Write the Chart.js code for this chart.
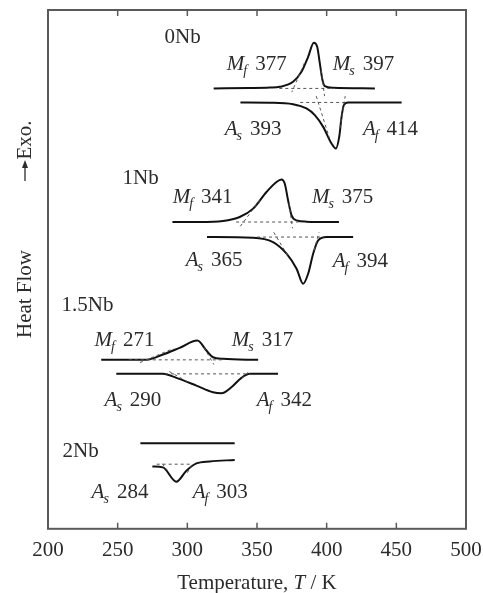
<!DOCTYPE html>
<html>
<head>
<meta charset="utf-8">
<script src="https://cdn.jsdelivr.net/npm/chart.js@4"></script>
<style>
  html, body { margin: 0; padding: 0; background: #fff; }
  canvas { display: block; }
</style>
</head>
<body>
<canvas id="dsc" width="483" height="593"></canvas>
<script>
// x axis ticks (temperature, K)
const tempTicks = [200, 250, 300, 350, 400, 450, 500];

// DSC traces, heat flow in arbitrary units (curves are stacked, exo up)
// 0Nb
const nb0CoolT  = [318.9, 344.8, 359.2, 366.4, 375.9, 381.9, 386.7, 390.8, 393.2, 395.1, 397.0, 398.7, 404.7, 434.6];
const nb0CoolHF = [43.97, 44.0, 44.05, 44.13, 44.63, 45.63, 47.13, 48.53, 48.13, 46.47, 44.8, 44.2, 44.03, 43.97];
const nb0HeatT  = [338.1, 359.2, 375.9, 385.5, 391.5, 397.5, 403.5, 406.6, 409.0, 410.7, 412.3, 415.4, 453.8];
const nb0HeatHF = [42.57, 42.55, 42.4, 41.97, 41.3, 40.13, 38.47, 37.97, 39.13, 41.13, 42.3, 42.57, 42.57];
// 1Nb
const nb1CoolT  = [289.3, 308.9, 325.6, 337.6, 347.2, 356.8, 364.0, 367.6, 369.9, 372.3, 374.8, 378.4, 385.5, 408.8];
const nb1CoolHF = [30.63, 30.63, 30.73, 31.13, 31.97, 33.63, 34.63, 34.87, 34.47, 32.8, 31.3, 30.8, 30.67, 30.63];
const nb1HeatT  = [314.1, 347.2, 361.5, 371.2, 378.4, 383.1, 386.7, 390.3, 393.9, 399.9, 419.0];
const nb1HeatHF = [29.13, 29.07, 28.63, 27.47, 25.97, 24.47, 25.47, 27.47, 28.8, 29.13, 29.13];
// 1.5Nb
const nb15CoolT  = [238.2, 258.6, 270.6, 282.5, 294.5, 307.2, 313.7, 318.4, 325.6, 350.8];
const nb15CoolHF = [16.87, 16.87, 16.87, 17.4, 18.07, 18.8, 17.8, 17.13, 16.97, 16.87];
const nb15HeatT  = [249.0, 282.5, 292.1, 306.5, 318.4, 324.5, 331.6, 338.8, 344.8, 365.1];
const nb15HeatHF = [15.47, 15.47, 15.07, 14.3, 13.63, 13.53, 14.13, 15.07, 15.47, 15.47];
// 2Nb
const nb2CoolT  = [266.3, 300.0, 334.0];
const nb2CoolHF = [8.53, 8.53, 8.53];
const nb2HeatT  = [274.9, 282.5, 292.1, 299.3, 306.5, 316.1, 334.0];
const nb2HeatHF = [6.23, 6.13, 4.7, 5.8, 6.53, 6.73, 6.87];

// dashed construction lines (baseline + tangents), pairs of points
const tangentT = [
  [366, 406], [384, 375], [396, 398.5],
  [381, 414], [392.5, 402], [409.5, 413.3],
  [335, 380], [338, 352], [373, 375.5],
  [350, 398], [362, 372], [391, 394.5],
  [258, 325], [266, 290], [312, 319],
  [284, 345], [287, 300], [339, 345],
  [278, 303], [282, 287], [300, 304]
];
const tangentHF = [
  [43.97, 43.97], [46.5, 43.6], [45.8, 43.2],
  [42.57, 42.57], [43.2, 39.0], [40.0, 43.2],
  [30.63, 30.63], [30.2, 32.8], [32.5, 30.0],
  [29.13, 29.13], [29.6, 27.3], [27.8, 29.6],
  [16.87, 16.87], [16.6, 18.0], [18.1, 16.4],
  [15.47, 15.47], [15.7, 14.7], [15.0, 15.8],
  [6.45, 6.45], [6.5, 5.6], [5.6, 6.6]
];

// sample names
const sampleNames = ['0Nb', '1Nb', '1.5Nb', '2Nb'];
const sampleT  = [283.7, 253.5, 209.7, 210.4];
const sampleHF = [49.05, 35.0, 22.3, 7.7];

// transformation temperatures
const annoMain = ['M', 'M', 'A', 'A', 'M', 'M', 'A', 'A', 'M', 'M', 'A', 'A', 'A', 'A'];
const annoSub  = ['f', 's', 's', 'f', 'f', 's', 's', 'f', 'f', 's', 's', 'f', 's', 'f'];
const annoVal  = [377, 397, 393, 414, 341, 375, 365, 394, 271, 317, 290, 342, 284, 303];
const annoT    = [328.3, 404.4, 326.8, 426.0, 289.5, 389.4, 298.8, 404.4, 233.4, 331.9, 240.6, 349.8, 231.3, 303.8];
const annoHF   = [46.4, 46.4, 39.9, 39.9, 33.1, 33.1, 26.8, 26.7, 18.8, 18.8, 12.8, 12.8, 3.6, 3.6];

const serif = '"Liberation Serif", "Times New Roman", serif';
const inkColor = '#2b2b2b';
const frameColor = '#5a5a5a';

function pts(xs, ys) {
  return xs.map((x, i) => ({ x: x, y: ys[i] }));
}

function curve(xs, ys) {
  return {
    data: pts(xs, ys),
    showLine: true,
    borderColor: '#111',
    borderWidth: 2,
    pointRadius: 0,
    cubicInterpolationMode: 'monotone',
    fill: false
  };
}

const datasets = [];
tangentT.forEach((t, i) => {
  datasets.push({
    data: pts(t, tangentHF[i]),
    showLine: true,
    borderColor: '#555',
    borderWidth: 1,
    borderDash: [3, 3],
    pointRadius: 0,
    tension: 0
  });
});
datasets.push(curve(nb0CoolT, nb0CoolHF));
datasets.push(curve(nb0HeatT, nb0HeatHF));
datasets.push(curve(nb1CoolT, nb1CoolHF));
datasets.push(curve(nb1HeatT, nb1HeatHF));
datasets.push(curve(nb15CoolT, nb15CoolHF));
datasets.push(curve(nb15HeatT, nb15HeatHF));
datasets.push(curve(nb2CoolT, nb2CoolHF));
datasets.push(curve(nb2HeatT, nb2HeatHF));

// frame, inward ticks, labels and axis titles
const decorations = {
  id: 'decorations',
  afterDraw(chart) {
    const ctx = chart.ctx;
    const a = chart.chartArea;
    const xs = chart.scales.x;
    const ys = chart.scales.y;
    ctx.save();

    // box
    ctx.strokeStyle = frameColor;
    ctx.lineWidth = 2;
    ctx.strokeRect(a.left, a.top, a.right - a.left, a.bottom - a.top);

    // inward tick marks top and bottom
    ctx.lineWidth = 1.5;
    tempTicks.forEach(t => {
      if (t === tempTicks[0] || t === tempTicks[tempTicks.length - 1]) return;
      const px = xs.getPixelForValue(t);
      ctx.beginPath();
      ctx.moveTo(px, a.bottom);
      ctx.lineTo(px, a.bottom - 6);
      ctx.moveTo(px, a.top);
      ctx.lineTo(px, a.top + 6);
      ctx.stroke();
    });

    ctx.fillStyle = inkColor;
    ctx.textAlign = 'left';
    ctx.textBaseline = 'middle';

    // sample names
    ctx.font = '21px ' + serif;
    sampleNames.forEach((name, i) => {
      ctx.fillText(name, xs.getPixelForValue(sampleT[i]), ys.getPixelForValue(sampleHF[i]));
    });

    // Mf, Ms, As, Af labels
    annoMain.forEach((m, i) => {
      const x = xs.getPixelForValue(annoT[i]);
      const y = ys.getPixelForValue(annoHF[i]);
      ctx.font = 'italic 21px ' + serif;
      ctx.fillText(m, x, y);
      let w = ctx.measureText(m).width;
      ctx.font = 'italic 14px ' + serif;
      ctx.fillText(annoSub[i], x + w - 1, y + 7);
      w += ctx.measureText(annoSub[i]).width;
      ctx.font = '21px ' + serif;
      ctx.fillText(String(annoVal[i]), x + w + 7, y);
    });

    // x title with italic T
    const parts = [['Temperature, ', '21px '], ['T', 'italic 21px '], [' / K', '21px ']];
    let total = 0;
    parts.forEach(p => { ctx.font = p[1] + serif; total += ctx.measureText(p[0]).width; });
    let tx = (a.left + a.right) / 2 - total / 2;
    parts.forEach(p => {
      ctx.font = p[1] + serif;
      ctx.fillText(p[0], tx, 583);
      tx += ctx.measureText(p[0]).width;
    });

    // y title: Heat Flow  ->Exo.
    ctx.font = '21px ' + serif;
    ctx.textAlign = 'center';
    ctx.save();
    ctx.translate(25, 294);
    ctx.rotate(-Math.PI / 2);
    ctx.fillText('Heat Flow', 0, 0);
    ctx.restore();
    ctx.save();
    ctx.translate(25, 140);
    ctx.rotate(-Math.PI / 2);
    ctx.fillText('Exo.', 0, 0);
    ctx.restore();
    // arrow pointing up (exo direction)
    ctx.strokeStyle = inkColor;
    ctx.lineWidth = 1.3;
    ctx.beginPath();
    ctx.moveTo(25, 181);
    ctx.lineTo(25, 164);
    ctx.stroke();
    ctx.beginPath();
    ctx.moveTo(25, 160);
    ctx.lineTo(22, 168);
    ctx.lineTo(28, 168);
    ctx.closePath();
    ctx.fill();

    ctx.restore();
  }
};

new Chart(document.getElementById('dsc'), {
  type: 'scatter',
  data: { datasets: datasets },
  options: {
    responsive: false,
    animation: false,
    devicePixelRatio: 1,
    layout: { padding: { left: 48, right: 17, top: 10, bottom: 29 } },
    plugins: { legend: { display: false }, tooltip: { enabled: false } },
    scales: {
      x: {
        type: 'linear',
        min: tempTicks[0],
        max: tempTicks[tempTicks.length - 1],
        afterBuildTicks: scale => { scale.ticks = tempTicks.map(v => ({ value: v })); },
        afterFit: scale => { scale.paddingLeft = 0; scale.paddingRight = 0; },
        grid: { display: false },
        border: { display: false },
        ticks: { font: { family: serif, size: 21 }, color: inkColor, padding: 1 }
      },
      y: {
        display: false,
        min: 0,
        max: 51.8
      }
    }
  },
  plugins: [decorations]
});
</script>
</body>
</html>
